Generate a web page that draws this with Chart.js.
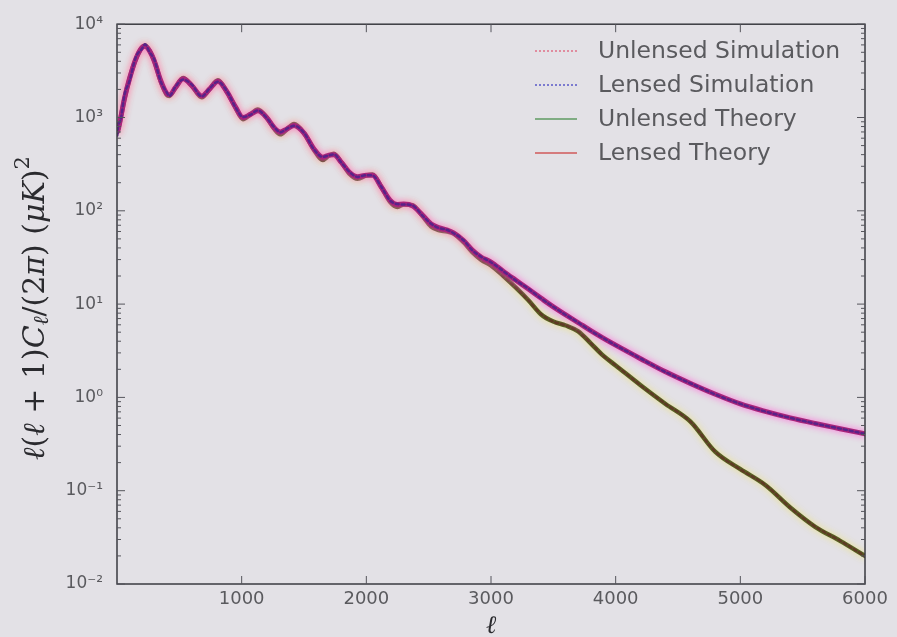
<!DOCTYPE html>
<html>
<head>
<meta charset="utf-8">
<script src="https://cdn.jsdelivr.net/npm/chart.js@4.4.1/dist/chart.umd.min.js"></script>
<style>
  html, body { margin: 0; padding: 0; background: #e3e1e6; }
  #wrap { width: 897px; height: 637px; }
  canvas { filter: blur(0.5px); }
</style>
</head>
<body>
<div id="wrap"><canvas id="myChart" width="897" height="637"></canvas></div>
<script>
// multipoles (x values)
var ells = [2, 10, 30, 60, 100, 150, 200, 225, 260, 300, 350, 400, 420, 470, 530, 600, 680, 740, 810, 880,
  950, 1010, 1070, 1130, 1200, 1260, 1310, 1360, 1420, 1500, 1580, 1650, 1700, 1740, 1800, 1870, 1930, 2000,
  2050, 2120, 2190, 2250, 2300, 2370, 2450, 2520, 2580, 2650, 2700, 2780, 2850, 2920, 3000, 3100, 3200, 3300,
  3400, 3500, 3600, 3700, 3800, 3900, 4000, 4200, 4400, 4600, 4800, 5000, 5200, 5400, 5600, 5800, 6000];

// l(l+1)Cl/2pi in uK^2
var unlensedSim = [760, 690, 1060, 1500, 2700, 4050, 5750, 5800, 5350, 3900, 2480, 1730, 1720, 2080, 2680, 2180, 1660, 1990, 2520, 1890,
  1290, 955, 1090, 1210, 1005, 755, 665, 735, 855, 675, 452, 348, 392, 408, 332, 244, 221, 239,
  246, 179, 126, 110.5, 116.5, 115.5, 88.3, 67.8, 62.2, 59.8, 57.2, 45.8, 36.2, 29.9, 26.1, 19.9, 15.1, 10.95,
  7.84, 6.48, 5.92, 5.08, 3.81, 2.79, 2.21, 1.345, 0.852, 0.548, 0.261, 0.169, 0.1155, 0.0658, 0.0412, 0.0291, 0.0199];
var lensedSim = [640, 820, 950, 1750, 2450, 4400, 5450, 6100, 5050, 4150, 2450, 1850, 1700, 2150, 2550, 2250, 1680, 2030, 2420, 1930,
  1290, 1010, 1070, 1190, 990, 790, 695, 755, 815, 685, 455, 378, 393, 402, 328, 257, 231, 241,
  239, 181, 129, 118, 117, 114, 89, 72.5, 65.5, 62.3, 57.6, 48.3, 37.8, 32.2, 28.1, 22.5, 17.9, 14.6,
  11.55, 9.35, 7.65, 6.33, 5.18, 4.33, 3.62, 2.61, 1.87, 1.415, 1.075, 0.853, 0.706, 0.604, 0.524, 0.463, 0.406];
var unlensedTheory = [700, 750, 1000, 1600, 2600, 4200, 5650, 5900, 5250, 4000, 2450, 1750, 1700, 2100, 2650, 2200, 1650, 2000, 2500, 1900,
  1280, 960, 1080, 1220, 1000, 760, 660, 740, 850, 680, 450, 350, 390, 410, 330, 245, 220, 240,
  245, 180, 125, 110, 117, 115, 88, 68, 62, 60, 57, 46, 36, 30, 26, 20, 15, 11,
  7.8, 6.5, 5.9, 5.1, 3.8, 2.8, 2.2, 1.35, 0.85, 0.55, 0.26, 0.17, 0.115, 0.066, 0.041, 0.029, 0.020];
var lensedTheory = [700, 750, 1000, 1600, 2600, 4200, 5600, 5800, 5200, 4000, 2500, 1800, 1750, 2100, 2600, 2200, 1700, 2000, 2450, 1900,
  1300, 1000, 1080, 1180, 1000, 780, 700, 750, 820, 680, 460, 375, 395, 400, 330, 255, 232, 240,
  240, 180, 130, 117, 118, 113, 90, 72, 66, 62, 58, 48, 38, 32, 28.2, 22.4, 18.0, 14.5,
  11.6, 9.33, 7.67, 6.31, 5.19, 4.32, 3.63, 2.60, 1.88, 1.41, 1.08, 0.851, 0.708, 0.603, 0.525, 0.462, 0.407];

var seriesNames = ["Unlensed Simulation", "Lensed Simulation", "Unlensed Theory", "Lensed Theory"];
var xTicks = [1000, 2000, 3000, 4000, 5000, 6000];
var yTicks = [0.01, 0.1, 1, 10, 100, 1000, 10000];
var yTickLabels = ["10\u207B\u00B2", "10\u207B\u00B9", "10\u2070", "10\u00B9", "10\u00B2", "10\u00B3", "10\u2074"];

function pts(arr) {
    return ells.map(function (l, i) { return { x: l, y: arr[i] }; });
}

var bg = '#e3e1e6';
var textGray = '#5a5a5e';

// background fill
var bgPlugin = {
    id: 'bg',
    beforeDraw: function (chart) {
        var ctx = chart.ctx;
        ctx.save();
        ctx.fillStyle = bg;
        ctx.fillRect(0, 0, chart.width, chart.height);
        ctx.restore();
    }
};

// soft halo round each curve, like the photo
var glowPlugin = {
    id: 'glow',
    beforeDatasetDraw: function (chart, args) {
        var ds = chart.data.datasets[args.index];
        chart.ctx.save();
        if (ds.glow) {
            chart.ctx.shadowColor = ds.glow;
            chart.ctx.shadowBlur = 7;
        }
    },
    afterDatasetDraw: function (chart) {
        chart.ctx.restore();
    }
};

// box around the axes with inward ticks
var framePlugin = {
    id: 'frame',
    afterDatasetsDraw: function (chart) {
        var ctx = chart.ctx, a = chart.chartArea;
        var xs = chart.scales.x, ys = chart.scales.y;
        ctx.save();
        ctx.strokeStyle = '#3a3a40';
        ctx.lineWidth = 1.5;
        ctx.strokeRect(a.left, a.top, a.right - a.left, a.bottom - a.top);
        ctx.lineWidth = 1;
        ctx.strokeStyle = '#55555c';
        ctx.beginPath();
        xTicks.forEach(function (v) {
            var px = xs.getPixelForValue(v);
            ctx.moveTo(px, a.bottom); ctx.lineTo(px, a.bottom - 8);
            ctx.moveTo(px, a.top); ctx.lineTo(px, a.top + 8);
        });
        yTicks.forEach(function (v, k) {
            var py = ys.getPixelForValue(v);
            ctx.moveTo(a.left, py); ctx.lineTo(a.left + 8, py);
            ctx.moveTo(a.right, py); ctx.lineTo(a.right - 8, py);
            if (k < yTicks.length - 1) {
                for (var m = 2; m < 10; m++) {
                    var pm = ys.getPixelForValue(v * m);
                    ctx.moveTo(a.left, pm); ctx.lineTo(a.left + 4, pm);
                    ctx.moveTo(a.right, pm); ctx.lineTo(a.right - 4, pm);
                }
            }
        });
        ctx.stroke();
        ctx.restore();
    }
};

// legend inside the plot, upper right
var legendPlugin = {
    id: 'innerLegend',
    afterDraw: function (chart) {
        var ctx = chart.ctx;
        ctx.save();
        ctx.font = '23.5px "DejaVu Sans"';
        ctx.textBaseline = 'middle';
        chart.data.datasets.forEach(function (ds, i) {
            var y = 51 + i * 34;
            ctx.strokeStyle = ds.legendColor;
            ctx.lineWidth = 1.5;
            ctx.setLineDash(ds.borderDash && ds.borderDash.length ? [2, 2] : []);
            ctx.beginPath();
            ctx.moveTo(535, y);
            ctx.lineTo(577, y);
            ctx.stroke();
            ctx.setLineDash([]);
            ctx.fillStyle = textGray;
            ctx.fillText(ds.label, 598, y + 1);
        });
        ctx.restore();
    }
};

// axis titles with math style
function drawRich(ctx, parts, size) {
    function font(p) {
        return (p.i ? 'italic ' : '') + Math.round(size * (p.s || 1)) + 'px "DejaVu Serif"';
    }
    var total = 0;
    parts.forEach(function (p) { ctx.font = font(p); total += ctx.measureText(p.t).width; });
    var x = -total / 2;
    parts.forEach(function (p) {
        ctx.font = font(p);
        ctx.fillText(p.t, x, (p.dy || 0));
        x += ctx.measureText(p.t).width;
    });
}
var titlePlugin = {
    id: 'titles',
    afterDraw: function (chart) {
        var ctx = chart.ctx, a = chart.chartArea;
        ctx.save();
        ctx.fillStyle = '#2a2a2e';
        ctx.textBaseline = 'middle';
        ctx.translate(36, 308);
        ctx.rotate(-Math.PI / 2);
        drawRich(ctx, [
            { t: '\u2113', i: 1 }, { t: '(' }, { t: '\u2113', i: 1 }, { t: ' + 1)' }, { t: 'C', i: 1 },
            { t: '\u2113', i: 1, s: 0.7, dy: 7 }, { t: '/(2' }, { t: '\u03C0', i: 1 }, { t: ') (' },
            { t: '\u03BCK', i: 1 }, { t: ')' }, { t: '2', s: 0.7, dy: -12 }
        ], 30);
        ctx.restore();
        ctx.save();
        ctx.fillStyle = '#2a2a2e';
        ctx.textBaseline = 'middle';
        ctx.translate((a.left + a.right) / 2, 626);
        drawRich(ctx, [{ t: '\u2113', i: 1 }], 25);
        ctx.restore();
    }
};

var ctx = document.getElementById('myChart').getContext('2d');
var myChart = new Chart(ctx, {
    type: 'line',
    data: {
        datasets: [{
            label: seriesNames[0],
            data: pts(unlensedSim),
            borderColor: '#5e3a24',
            legendColor: '#e07088',
            borderWidth: 2.5,
            borderDash: [3, 3],
            order: 3
        }, {
            label: seriesNames[1],
            data: pts(lensedSim),
            borderColor: '#5a2288',
            legendColor: '#5a58c8',
            borderWidth: 2.5,
            borderDash: [3, 3],
            order: 1
        }, {
            label: seriesNames[2],
            data: pts(unlensedTheory),
            borderColor: '#585f24',
            legendColor: '#5f9a62',
            borderWidth: 4.5,
            glow: 'rgba(235,225,120,0.9)',
            order: 4
        }, {
            label: seriesNames[3],
            data: pts(lensedTheory),
            borderColor: '#a8257a',
            legendColor: '#d0585a',
            borderWidth: 5,
            glow: 'rgba(255,100,215,0.95)',
            order: 2
        }]
    },
    options: {
        responsive: false,
        animation: false,
        devicePixelRatio: 1,
        layout: { padding: { left: 0, top: 21, right: 32, bottom: 0 } },
        elements: {
            point: { radius: 0 },
            line: { cubicInterpolationMode: 'monotone', borderCapStyle: 'round' }
        },
        scales: {
            x: {
                type: 'linear',
                min: 0,
                max: 6000,
                grid: { display: false, drawTicks: false },
                border: { display: false },
                afterBuildTicks: function (s) { s.ticks = xTicks.map(function (v) { return { value: v }; }); },
                afterFit: function (s) { s.height = 53; },
                ticks: {
                    color: textGray,
                    font: { family: 'DejaVu Sans', size: 18 },
                    padding: 5,
                    maxRotation: 0,
                    callback: function (v) { return String(v); }
                }
            },
            y: {
                type: 'logarithmic',
                min: 0.01,
                max: 10000,
                grid: { display: false, drawTicks: false },
                border: { display: false },
                afterBuildTicks: function (s) { s.ticks = yTicks.map(function (v) { return { value: v }; }); },
                afterFit: function (s) { s.width = 117; },
                ticks: {
                    color: textGray,
                    font: { family: 'DejaVu Sans', size: 17 },
                    padding: 14,
                    callback: function (v) {
                        var k = yTicks.indexOf(v);
                        return k >= 0 ? yTickLabels[k] : '';
                    }
                }
            }
        },
        plugins: {
            legend: { display: false },
            tooltip: { enabled: false }
        }
    },
    plugins: [bgPlugin, glowPlugin, framePlugin, legendPlugin, titlePlugin]
});
</script>
</body>
</html>
